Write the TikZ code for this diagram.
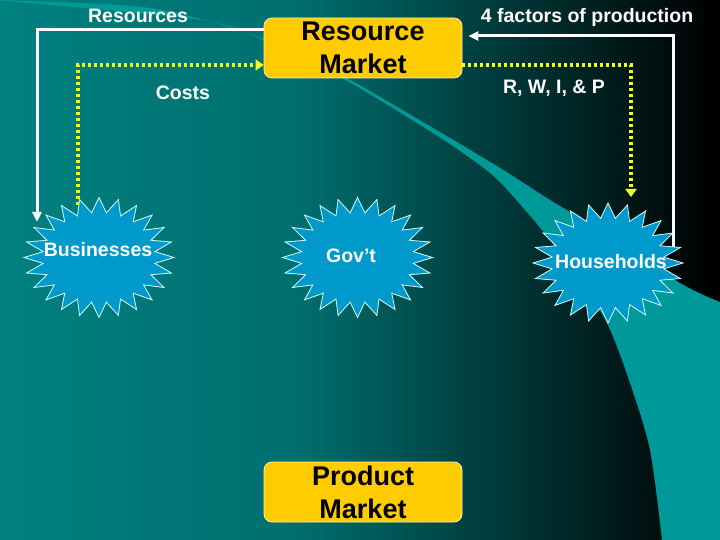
\documentclass[tikz,border=0pt]{standalone}
\usepackage{fontspec}
\setmainfont{Liberation Sans}
\usetikzlibrary{arrows.meta}

\definecolor{bgA}{RGB}{0,128,128}
\definecolor{bgB}{RGB}{0,110,110}
\definecolor{bandteal}{RGB}{0,153,153}
\definecolor{mktfill}{RGB}{255,204,0}
\definecolor{mktedge}{RGB}{255,240,170}
\definecolor{burstfill}{RGB}{0,153,204}
\definecolor{burstedge}{RGB}{210,255,255}
\definecolor{dotyellow}{RGB}{240,255,40}
\pgfdeclarehorizontalshading{bgshade}{100bp}{color(0bp)=(bgA); color(25bp)=(bgA); color(45.8bp)=(bgB); color(74.6bp)=(black); color(100bp)=(black)}

\tikzset{
  market/.style={draw=mktedge, line width=0.8pt, fill=mktfill, rounded corners=8pt,
    minimum width=198pt, minimum height=60pt, inner sep=0pt, align=center,
    font=\bfseries\fontsize{27}{33}\selectfont},
  lbl/.style={anchor=base, text=white, inner sep=0pt, font=\bfseries\fontsize{19.5}{23}\selectfont},
  burst/.style={fill=burstfill, draw=burstedge, line width=0.8pt},
  resflow/.style={draw=white, line width=3pt, -{Triangle[length=10pt,width=9pt]}},
  costflow/.style={draw=dotyellow, line width=4pt, dash pattern=on 3pt off 3pt,
    -{Triangle[length=8pt,width=11pt]}}
}

\begin{document}
\begin{tikzpicture}[x=1pt, y=-1pt]
  \useasboundingbox (0,0) rectangle (720,540);
  \shade [shading=bgshade] (0,0) rectangle (720,540);
  \fill [bandteal] plot [smooth, tension=0.5] coordinates {(0,0) (133,6) (200,19) (267,40) (343,76) (433,128) (500,168) (550,200) (600,230) (680,283) (720,302)}
    -- (720,540) -- plot [smooth, tension=0.5] coordinates {(662,540) (650,450) (630,383) (607,323) (577,277) (547,236) (500,182) (470,158) (433,133) (343,78.5) (267,41.5) (200,20) (0,0.5)} -- cycle;

  \node [market] (rm) at (363,48) {Resource\\Market};
  \node [market] (pm) at (363,492) {Product\\Market};

  \coordinate (bizres) at (37,222);
  \coordinate (bizcost) at (78,205);
  \coordinate (hhres) at (673,247);
  \coordinate (hhcost) at (631,197);

  \draw [resflow] ([yshift=18pt]rm.west) -| (bizres);
  \draw [costflow] (bizcost) |- ([yshift=-17pt]rm.west);
  \draw [resflow] (hhres) |- ([xshift=6pt, yshift=12pt]rm.east);
  \draw [costflow] ([yshift=-17pt]rm.east) -| (hhcost);

  \foreach \cx/\cy in {99/257.5, 357.5/257.5, 608/263}
    \filldraw [burst, shift={(\cx,\cy)}] (0:75 and 60)
      \foreach \k in {1,...,47} { -- ({\k*7.5}:{(1-0.25*mod(\k,2))*75} and {(1-0.25*mod(\k,2))*60}) } -- cycle;

  \node [lbl] (resources) at (138,23) {Resources};
  \node [lbl] (costs) at (183,100) {Costs};
  \node [lbl] (factors) at (587,23) {4 factors of production};
  \node [lbl] (rwip) at (554,94) {R, W, I, \& P};
  \node [lbl] (biztxt) at (98,256) {Businesses};
  \node [lbl] (govtxt) at (351,262) {Gov’t};
  \node [lbl] (hhtxt) at (611,268) {Households};
\end{tikzpicture}
\end{document}
